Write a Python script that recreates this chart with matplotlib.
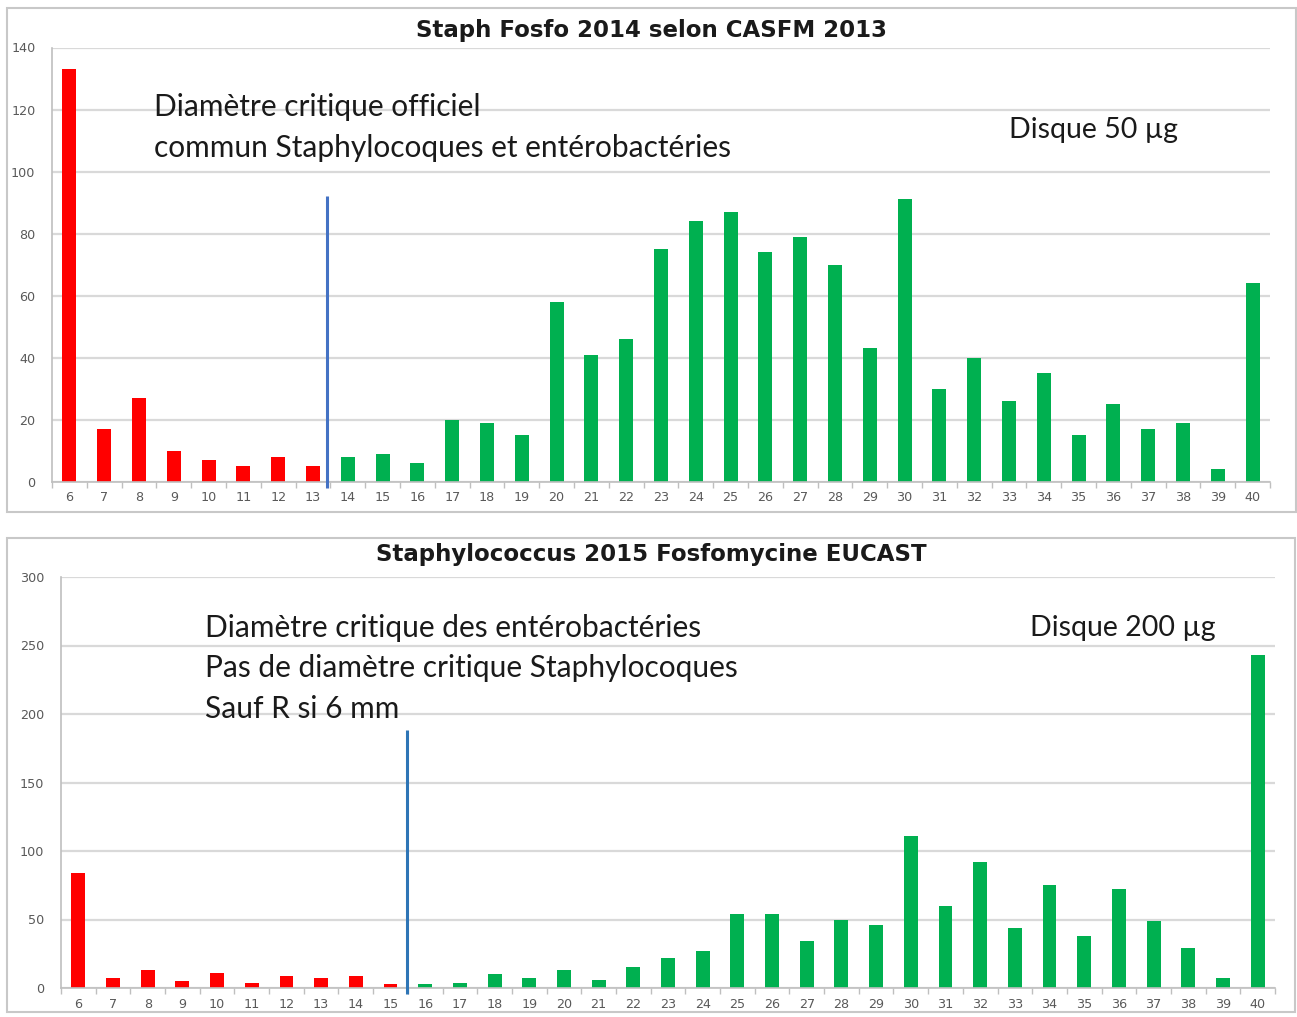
import matplotlib
matplotlib.use("Agg")
import matplotlib.pyplot as plt
from matplotlib.patches import Rectangle
import numpy as np

# ---------------- data ----------------
diameters = list(range(6, 41))  # mm

casfm2013_counts = [133, 17, 27, 10, 7, 5, 8, 5, 8, 9, 6, 20, 19, 15, 58, 41, 46, 75,
                    84, 87, 74, 79, 70, 43, 91, 30, 40, 26, 35, 15, 25, 17, 19, 4, 64]
casfm2013_breakpoint = 13.4      # mm, position of vertical line
casfm2013_line_top = 92
casfm2013_red_upto = 13          # bars <= this are red

eucast2015_counts = [84, 7, 13, 5, 11, 4, 9, 7, 9, 3, 3, 4, 10, 7, 13, 6, 15, 22,
                     27, 54, 54, 34, 50, 46, 111, 60, 92, 44, 75, 38, 72, 49, 29, 7, 243]
eucast2015_breakpoint = 15.48
eucast2015_line_top = 188
eucast2015_red_upto = 15

title_top = "Staph Fosfo 2014 selon CASFM 2013"
title_bottom = "Staphylococcus 2015 Fosfomycine EUCAST"
note_top = ["Diamètre critique officiel", "commun Staphylocoques et entérobactéries"]
disc_top = "Disque 50 µg"
note_bottom = ["Diamètre critique des entérobactéries",
               "Pas de diamètre critique Staphylocoques",
               "Sauf R si 6 mm"]
disc_bottom = "Disque 200 µg"

# ---------------- styling ----------------
W, H = 1297, 1017
DPI = 100
RED = "#FF0000"
GREEN = "#00B050"
GRID = "#D9D9D9"
AXC = "#BFBFBF"
TICKC = "#595959"
NOTE_FONT = ["Lato", "DejaVu Sans"]

fig = plt.figure(figsize=(W / DPI, H / DPI), dpi=DPI)
fig.patch.set_facecolor("white")


def fx(px):
    return px / W


def fy(py):
    return 1 - py / H


def panel(ax_px, counts, red_upto, ymax, ystep, bp, bp_top, line_color, title, title_y,
          frame_px):
    x0, y0, x1, y1 = frame_px
    fig.patches.append(Rectangle((fx(x0), fy(y1)), fx(x1 - x0), (y1 - y0) / H,
                                 transform=fig.transFigure, fill=False,
                                 edgecolor="#C8C8C8", lw=1.5, zorder=0))
    l, t, r, b = ax_px
    ax = fig.add_axes([fx(l), fy(b), fx(r - l), (b - t) / H])
    idx = np.arange(len(diameters))
    colors = [RED if d <= red_upto else GREEN for d in diameters]
    ax.bar(idx, counts, width=0.4, color=colors, zorder=3)
    ax.set_xlim(-0.5, len(diameters) - 0.5)
    ax.set_ylim(0, ymax)
    ax.set_yticks(np.arange(0, ymax + 1, ystep))
    ax.yaxis.grid(True, color=GRID, lw=1.6, zorder=0)
    ax.set_axisbelow(True)
    ax.set_xticks(idx)
    ax.set_xticklabels([str(d) for d in diameters])
    ax.set_xticks(np.arange(-0.5, len(diameters), 1.0), minor=True)
    ax.tick_params(axis="x", which="major", length=0, pad=7, labelsize=9.2,
                   labelcolor=TICKC)
    ax.tick_params(axis="x", which="minor", length=4, width=1, color=AXC, direction="out")
    ax.tick_params(axis="y", length=0, pad=12, labelsize=9.2, labelcolor=TICKC)
    for s in ("top", "right"):
        ax.spines[s].set_visible(False)
    for s in ("left", "bottom"):
        ax.spines[s].set_color(AXC)
        ax.spines[s].set_linewidth(1.2)
    ax.spines["bottom"].set_zorder(4)
    # breakpoint line
    bx = bp - diameters[0]
    ax.plot([bx, bx], [-ymax * 0.015, bp_top], color=line_color, lw=2.2, zorder=5,
            clip_on=False, solid_capstyle="butt")
    fig.text(0.5 * (fx(x0) + fx(x1)), fy(title_y), title, ha="center", va="center",
             fontsize=16.5, fontweight="bold", color="#1A1A1A", family="DejaVu Sans")
    return ax


panel((52, 47.5, 1270, 481.7), casfm2013_counts, casfm2013_red_upto, 140, 20,
      casfm2013_breakpoint, casfm2013_line_top, "#4472C4", title_top, 30,
      (7, 8, 1296, 512))
panel((61, 577, 1275, 988), eucast2015_counts, eucast2015_red_upto, 300, 50,
      eucast2015_breakpoint, eucast2015_line_top, "#2E75B6", title_bottom, 555,
      (7, 538, 1295, 1012))

NOTE_SIZE = 21.5
for i, line in enumerate(note_top):
    fig.text(fx(154), fy(107 + 41 * i), line, ha="left", va="center",
             fontsize=NOTE_SIZE, family=NOTE_FONT, color="#1A1A1A")
fig.text(fx(1009), fy(130), disc_top, ha="left", va="center",
         fontsize=20.5, family=NOTE_FONT, color="#1A1A1A")
for i, line in enumerate(note_bottom):
    fig.text(fx(205), fy(628 + 40.5 * i), line, ha="left", va="center",
             fontsize=NOTE_SIZE, family=NOTE_FONT, color="#1A1A1A")
fig.text(fx(1030), fy(628), disc_bottom, ha="left", va="center",
         fontsize=20.5, family=NOTE_FONT, color="#1A1A1A")

fig.savefig("out.png", dpi=DPI, facecolor="white")
